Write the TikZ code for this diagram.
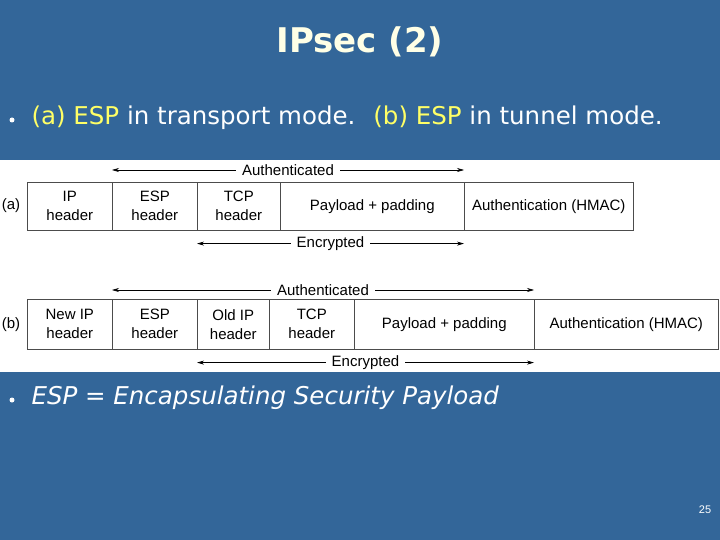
\documentclass[tikz,border=0pt]{standalone}
\usepackage{fontspec}
\setmainfont{DejaVu Sans}
\newfontfamily\arial{Liberation Sans}
\usetikzlibrary{arrows.meta}
\definecolor{bg}{RGB}{51,102,153}
\definecolor{hl}{RGB}{255,255,102}
\definecolor{ttl}{RGB}{255,255,230}
\tikzset{x=1pt,y=-1pt,
 cell/.style={draw=black!70,line width=0.6pt,fill=white,anchor=north west,inner sep=0pt,align=center,font=\arial\fontsize{15}{19}\selectfont},
 span/.style={{Stealth[length=7pt,width=4pt]}-{Stealth[length=7pt,width=4pt]},line width=0.6pt},
 lbl/.style={fill=white,inner sep=2pt,font=\arial\fontsize{15}{16}\selectfont},
 dot/.style={fill=white,circle,inner sep=0pt,minimum size=5pt},
 bul/.style={font=\fontsize{24.5}{28}\selectfont,text=white,anchor=west}}
\begin{document}
\begin{tikzpicture}
\fill[bg] (0,0) rectangle (720,540);
\useasboundingbox (0,0) rectangle (720,540);
\node[font=\bfseries\fontsize{34}{40}\selectfont,text=ttl] (title) at (360,42) {IPsec (2)};
\node[dot] (b1) at (12,120) {};
\node[bul] (t1) at (28,118) {\textcolor{hl}{(a)} \textcolor{hl}{ESP} in transport mode.\hspace{18pt}\textcolor{hl}{(b)} \textcolor{hl}{ESP} in tunnel mode.};
\fill[white] (0,160) rectangle (720,372);
% row a
\node[font=\arial\fontsize{15}{16}\selectfont] (la) at (11,206) {(a)};
\node[cell,minimum width=85,minimum height=48] (a1) at (27,182) {IP\\header};
\node[cell,minimum width=85,minimum height=48] (a2) at (112,182) {ESP\\header};
\node[cell,minimum width=83,minimum height=48] (a3) at (197,182) {TCP\\header};
\node[cell,minimum width=184,minimum height=48] (a4) at (280,182) {Payload + padding};
\node[cell,minimum width=169,minimum height=48] (a5) at (464,182) {Authentication (HMAC)};
\coordinate (aa1) at ([yshift=12]a2.north west);
\coordinate (aa2) at ([yshift=12]a5.north west);
\draw[span] (aa1) -- (aa2) node[lbl,midway,inner xsep=6pt] (auA) {Authenticated};
\coordinate (ae1) at ([yshift=-13]a3.south west);
\coordinate (ae2) at ([yshift=-13]a5.south west);
\draw[span] (ae1) -- (ae2) node[lbl,midway,inner xsep=6pt] (enA) {Encrypted};
% row b
\node[font=\arial\fontsize{15}{16}\selectfont] (lb) at (11,325) {(b)};
\node[cell,minimum width=85,minimum height=50] (b1c) at (27,299) {New IP\\header};
\node[cell,minimum width=85,minimum height=50] (b2) at (112,299) {ESP\\header};
\node[cell,minimum width=72,minimum height=50] (b3) at (197,299) {Old IP\\header};
\node[cell,minimum width=85,minimum height=50] (b4) at (269,299) {TCP\\header};
\node[cell,minimum width=180,minimum height=50] (b5) at (354,299) {Payload + padding};
\node[cell,minimum width=184,minimum height=50] (b6) at (534,299) {Authentication (HMAC)};
\coordinate (ba1) at ([yshift=9]b2.north west);
\coordinate (ba2) at ([yshift=9]b6.north west);
\draw[span] (ba1) -- (ba2) node[lbl,midway,inner xsep=6pt] (auB) {Authenticated};
\coordinate (be1) at ([yshift=-13]b3.south west);
\coordinate (be2) at ([yshift=-13]b6.south west);
\draw[span] (be1) -- (be2) node[lbl,midway,inner xsep=6pt] (enB) {Encrypted};
\node[dot] (b2b) at (12,400) {};
\node[bul] (t2) at (28,398) {\itshape ESP = Encapsulating Security Payload};
\node[text=white,font=\arial\fontsize{11}{12}\selectfont] (pg) at (705,510) {25};
\end{tikzpicture}
\end{document}
